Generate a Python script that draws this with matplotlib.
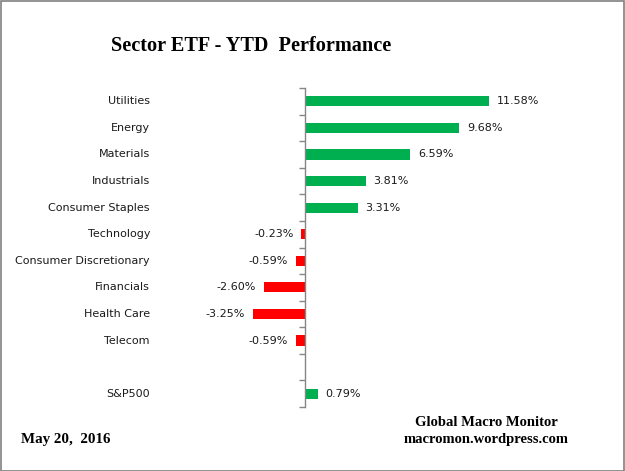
import numpy as np
import matplotlib.pyplot as plt
from matplotlib import transforms
from matplotlib.patches import Rectangle

# sector ETF year-to-date performance, in percent
sectors = ['Utilities', 'Energy', 'Materials', 'Industrials', 'Consumer Staples',
           'Technology', 'Consumer Discretionary', 'Financials', 'Health Care',
           'Telecom', '', 'S&P500']
ytd = [11.58, 9.68, 6.59, 3.81, 3.31, -0.23, -0.59, -2.60, -3.25, -0.59, np.nan, 0.79]

green = '#00B050'
red = '#FF0000'

fig = plt.figure(figsize=(6.25, 4.71), dpi=100)
W, H = 625, 471
# axes placed so that zero sits at x=305 px, plot area 88..407 px tall
axL, axR = 200, 560
ax = fig.add_axes([axL / W, (H - 407) / H, (axR - axL) / W, (407 - 88) / H])
px_per_pct = 15.9
ax.set_xlim(-(305 - axL) / px_per_pct, (axR - 305) / px_per_pct)

pos = np.arange(len(sectors))
vals = np.array(ytd)
cols = [green if v >= 0 else red for v in np.nan_to_num(vals)]
ax.barh(pos, np.nan_to_num(vals), height=0.38, color=cols)
ax.set_ylim(len(sectors) - 0.5, -0.5)

for s in ['top', 'right', 'bottom']:
    ax.spines[s].set_visible(False)
ax.spines['left'].set_position(('data', 0))
ax.spines['left'].set_color('#868686')
ax.spines['left'].set_linewidth(1)
ax.set_xticks([])
ax.set_yticks(np.arange(-0.5, len(sectors), 1.0))
ax.set_yticklabels([])
ax.tick_params(axis='y', direction='out', length=4, width=1, color='#868686')

lab_tr = transforms.blended_transform_factory(fig.transFigure, ax.transData)
for p, name, v in zip(pos, sectors, vals):
    if name:
        ax.text(150 / W, p, name, transform=lab_tr, ha='right', va='center',
                fontsize=8, color='#1a1a1a')
    if not np.isnan(v):
        if v >= 0:
            ax.text(v + 8 / px_per_pct, p, f'{v:.2f}%', ha='left', va='center',
                    fontsize=8, color='#1a1a1a')
        else:
            ax.text(v - 8 / px_per_pct, p, f'{v:.2f}%', ha='right', va='center',
                    fontsize=8, color='#1a1a1a')

serif = ['Liberation Serif', 'DejaVu Serif']
fig.text(251 / W, 1 - 46 / H, 'Sector ETF - YTD  Performance', ha='center', va='center',
         fontsize=14.6, fontweight='bold', family=serif)
fig.text(486 / W, 1 - 423 / H, 'Global Macro Monitor', ha='center', va='center',
         fontsize=10.5, fontweight='bold', family=serif)
fig.text(486 / W, 1 - 439 / H, 'macromon.wordpress.com', ha='center', va='center',
         fontsize=10.5, fontweight='bold', family=serif)
fig.text(21 / W, 1 - 439 / H, 'May 20,  2016', ha='left', va='center',
         fontsize=10.8, fontweight='bold', family=serif)

fig.patches.append(Rectangle((0.0008, 0.001), 0.9975, 0.9965, transform=fig.transFigure,
                             fill=False, edgecolor='#808080', linewidth=1.2))

fig.savefig('out.png', dpi=100)
